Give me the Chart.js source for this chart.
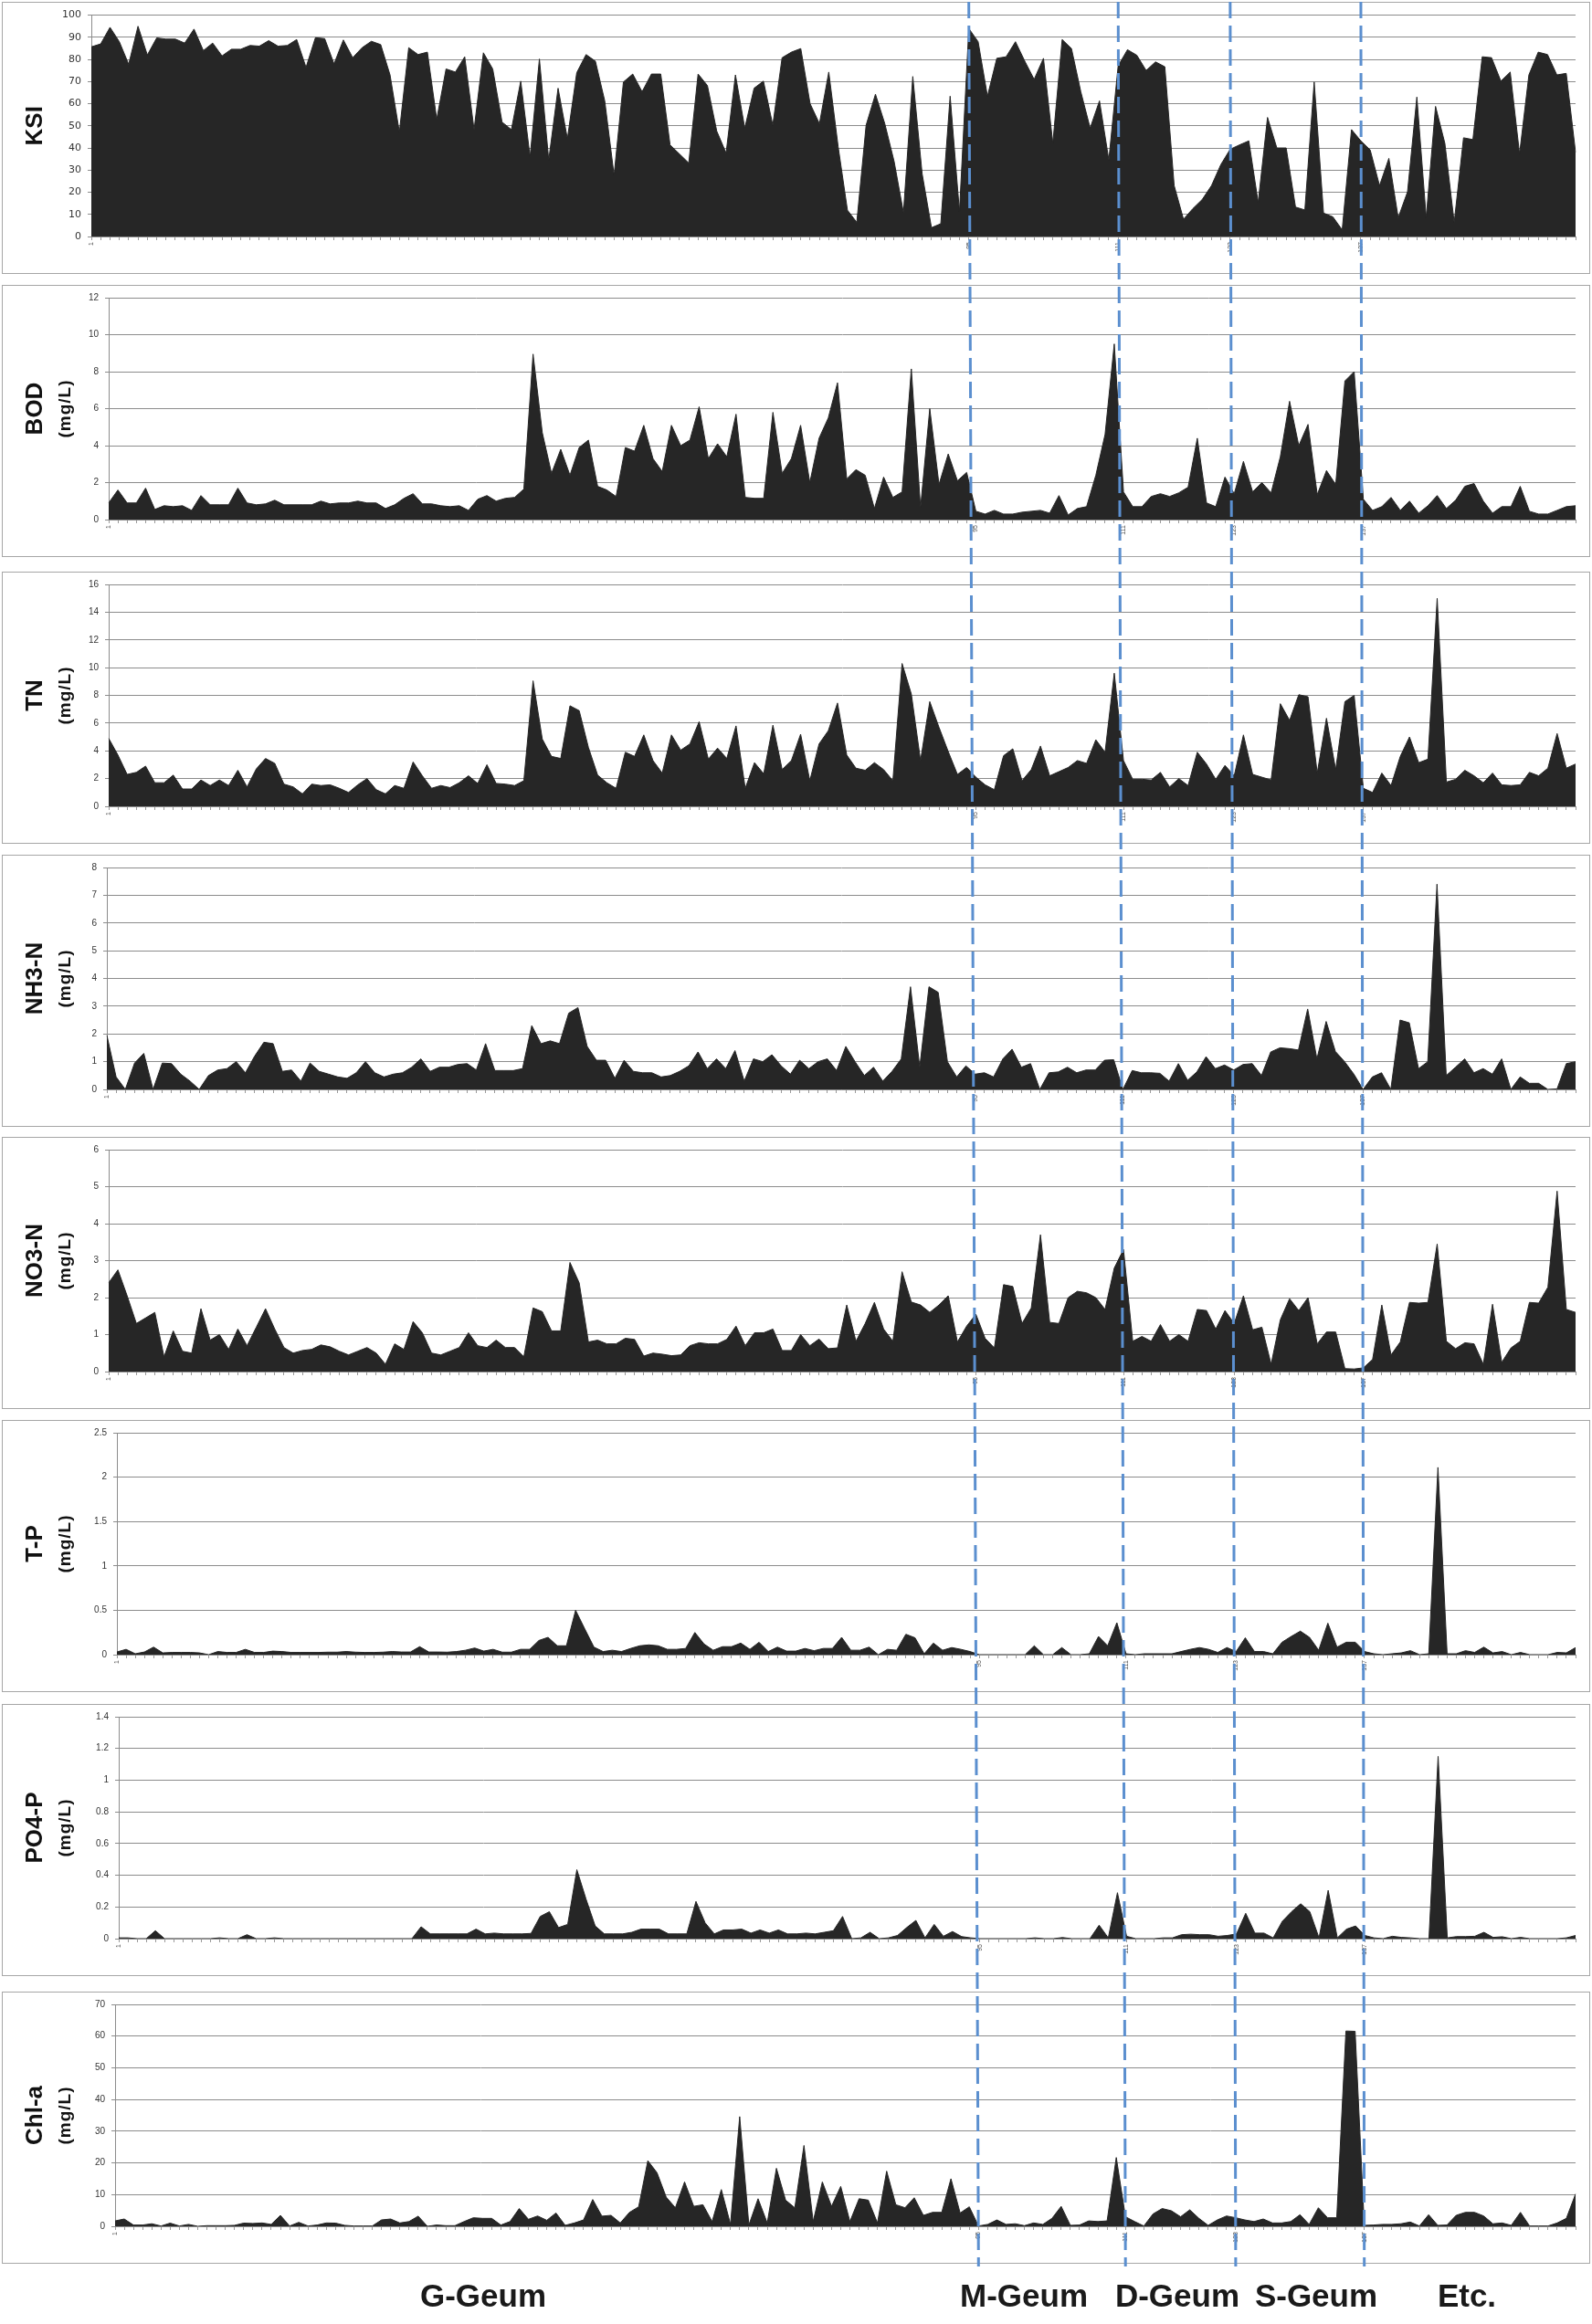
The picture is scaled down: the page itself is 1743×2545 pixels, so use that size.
<!DOCTYPE html>
<html>
<head>
<meta charset="utf-8">
<script src="https://cdn.jsdelivr.net/npm/chart.js@4.4.1/dist/chart.umd.min.js"></script>
<style>
  html, body { margin: 0; padding: 0; background: #fff; }
  body { width: 1743px; height: 2545px; position: relative; overflow: hidden; }
  .panel { position: absolute; left: 2px; width: 1739px; height: 298px; border: 1px solid #a6a6a6; box-sizing: border-box; }
  .panel canvas { display: block; }
  #guides { position: absolute; left: 0; top: 0; pointer-events: none; }
  .region { position: absolute; top: 2496px; font: bold 35px "Liberation Sans", Arial, sans-serif; line-height: 35px; color: #1a1a1a; transform: translateX(-50%); white-space: nowrap; }
</style>
</head>
<body>
<div id="panels"></div>
<canvas id="guides" width="1743" height="2545"></canvas>
<div class="region" style="left:529px">G-Geum</div>
<div class="region" style="left:1121px">M-Geum</div>
<div class="region" style="left:1289px">D-Geum</div>
<div class="region" style="left:1441px">S-Geum</div>
<div class="region" style="left:1606px">Etc.</div>
<script>
// === dados (160 amostras) ===
const ksi = [
  85.7, 87, 94.5, 88, 77.8, 95, 82, 89.7, 89.2, 89.2,
  87.4, 93.7, 84, 87.4, 81.6, 84.6, 84.6, 86.3, 86, 88.5,
  86, 86.3, 89, 76.4, 89.8, 89.4, 78, 88.8, 80.8, 85.3,
  88.2, 86.7, 73, 47.2, 85.3, 82.2, 83.3, 53, 75.7, 74.3,
  81.2, 48.3, 83, 75.7, 51.7, 48.3, 70.2, 36, 80.2, 34.6,
  67, 44.2, 74, 82.2, 79.2, 61.3, 27.7, 69.8, 73.4, 65.4,
  73.4, 73.4, 41.4, 37.3, 33.2, 73.4, 68.2, 47.6, 37.7, 73,
  49, 67, 70.2, 50.3, 80.8, 83.3, 84.9, 60, 51, 74.3,
  40.7, 11.9, 6.4, 50.3, 64.3, 51, 33.9, 10.8, 72.3, 28.4,
  4, 5.8, 63.4, 11.2, 94, 88, 63.4, 80.5, 81.2, 88,
  79.2, 71, 80.5, 42.1, 89, 84.9, 65.4, 49, 61.3, 34.6,
  77.1, 84.4, 81.9, 75, 78.9, 76.7, 23, 7.8, 12.6, 16.7,
  23, 32.5, 39.4, 41.4, 43.2, 15.4, 53.8, 40, 40, 13.3,
  12, 69.8, 10.6, 8.9, 3, 48.3, 43.2, 39.1, 23, 35.3,
  8.5, 20.2, 63, 8.5, 58.8, 42.1, 6.4, 44.6, 43.8, 81.2,
  80.8, 70.2, 74.3, 37.3, 73, 83.3, 82.2, 73, 73.7, 38
];
const bod = [
  0.9, 1.6, 0.9, 0.9, 1.7, 0.55, 0.75, 0.7, 0.75, 0.5,
  1.3, 0.8, 0.8, 0.8, 1.7, 0.9, 0.8, 0.85, 1.05, 0.8,
  0.8, 0.8, 0.8, 1.0, 0.85, 0.9, 0.9, 1.0, 0.9, 0.9,
  0.6, 0.8, 1.15, 1.4, 0.85, 0.85, 0.75, 0.7, 0.75, 0.5,
  1.1, 1.3, 1.0, 1.15, 1.2, 1.65, 8.95, 4.7, 2.5, 3.8,
  2.4, 3.9, 4.3, 1.8, 1.6, 1.25, 3.9, 3.7, 5.1, 3.3,
  2.6, 5.1, 4.0, 4.3, 6.1, 3.3, 4.1, 3.4, 5.7, 1.2,
  1.15, 1.15, 5.8, 2.5, 3.3, 5.1, 2.0, 4.4, 5.5, 7.4,
  2.2, 2.7, 2.4, 0.6, 2.3, 1.2, 1.5, 8.15, 0.65, 6.0,
  1.9, 3.55, 2.1, 2.55, 0.45, 0.3, 0.5, 0.3, 0.3, 0.4,
  0.45, 0.5, 0.35, 1.3, 0.25, 0.6, 0.7, 2.4, 4.6, 9.5,
  1.5, 0.7, 0.7, 1.25, 1.4, 1.25, 1.45, 1.75, 4.4, 0.9,
  0.7, 2.3, 1.4, 3.15, 1.5, 2.0, 1.45, 3.4, 6.4, 4.0,
  5.15, 1.35, 2.65, 1.9, 7.5, 8.0, 1.1, 0.5, 0.7, 1.2,
  0.5, 1.0, 0.35, 0.75, 1.3, 0.6, 1.05, 1.8, 1.95, 1.0,
  0.35, 0.7, 0.7, 1.8, 0.45, 0.3, 0.3, 0.5, 0.7, 0.75
];
const tn = [
  4.9, 3.7, 2.3, 2.45, 2.9, 1.7, 1.7, 2.25, 1.25, 1.25,
  1.9, 1.5, 1.9, 1.5, 2.6, 1.4, 2.7, 3.45, 3.1, 1.6,
  1.4, 0.9, 1.6, 1.5, 1.55, 1.3, 1.0, 1.55, 2.0, 1.2,
  0.9, 1.5, 1.3, 3.2, 2.2, 1.3, 1.5, 1.35, 1.7, 2.2,
  1.65, 3.0, 1.65, 1.6, 1.5, 1.85, 9.05, 4.85, 3.6, 3.45,
  7.25, 6.9, 4.25, 2.25, 1.7, 1.3, 3.9, 3.6, 5.15, 3.3,
  2.4, 5.15, 4.05, 4.5, 6.1, 3.4, 4.2, 3.45, 5.8, 1.3,
  3.15, 2.35, 5.85, 2.65, 3.3, 5.2, 1.85, 4.5, 5.45, 7.45,
  3.7, 2.75, 2.6, 3.15, 2.65, 1.85, 10.3, 8.1, 3.3, 7.55,
  5.7, 3.95, 2.3, 2.8, 2.1, 1.55, 1.2, 3.65, 4.15, 1.85,
  2.65, 4.35, 2.2, 2.5, 2.8, 3.3, 3.1, 4.8, 3.9, 9.6,
  3.3, 1.95, 1.95, 1.9, 2.45, 1.4, 2.0, 1.5, 3.9, 3.05,
  1.95, 2.95, 2.2, 5.15, 2.3, 2.1, 1.9, 7.4, 6.2, 8.05,
  7.9, 2.4, 6.35, 2.65, 7.55, 8.0, 1.3, 1.0, 2.4, 1.5,
  3.6, 5.0, 3.15, 3.4, 15.0, 1.75, 1.95, 2.6, 2.2, 1.7,
  2.4, 1.55, 1.5, 1.55, 2.45, 2.2, 2.75, 5.25, 2.75, 3.05
];
const nh3n = [
  1.95, 0.45, 0, 0.95, 1.3, 0, 0.95, 0.93, 0.55, 0.3,
  0, 0.5, 0.7, 0.75, 1.0, 0.6, 1.2, 1.7, 1.65, 0.65,
  0.7, 0.3, 0.95, 0.65, 0.55, 0.45, 0.4, 0.6, 1.0, 0.6,
  0.45, 0.55, 0.6, 0.8, 1.1, 0.65, 0.8, 0.8, 0.9, 0.93,
  0.7, 1.65, 0.68, 0.68, 0.68, 0.75, 2.3, 1.65, 1.75, 1.65,
  2.75, 2.95, 1.55, 1.05, 1.05, 0.4, 1.05, 0.65, 0.6, 0.6,
  0.45, 0.5, 0.65, 0.85, 1.35, 0.75, 1.1, 0.75, 1.4, 0.3,
  1.1, 1.0, 1.25, 0.85, 0.55, 1.05, 0.75, 1.0, 1.1, 0.68,
  1.55, 1.0, 0.5, 0.8, 0.3, 0.65, 1.1, 3.7, 0.8, 3.7,
  3.5, 1.0, 0.45, 0.85, 0.55, 0.6, 0.45, 1.1, 1.45, 0.8,
  0.93, 0, 0.6, 0.63, 0.8, 0.6, 0.7, 0.7, 1.05, 1.07,
  0, 0.68, 0.6, 0.6, 0.58, 0.3, 0.93, 0.33, 0.63, 1.18,
  0.75, 0.88, 0.7, 0.9, 0.93, 0.5, 1.35, 1.5, 1.47, 1.42,
  2.9, 1.1, 2.45, 1.37, 1.0, 0.55, 0, 0.45, 0.6, 0,
  2.5, 2.4, 0.75, 1.0, 7.4, 0.5, 0.8, 1.1, 0.6, 0.75,
  0.55, 1.1, 0, 0.45, 0.22, 0.22, 0, 0.02, 0.93, 1.0
];
const no3n = [
  2.4, 2.75, 2.05, 1.3, 1.45, 1.6, 0.4, 1.1, 0.55, 0.5,
  1.7, 0.85, 1.0, 0.6, 1.15, 0.7, 1.2, 1.7, 1.15, 0.65,
  0.5, 0.57, 0.6, 0.72, 0.67, 0.55, 0.45, 0.55, 0.65, 0.5,
  0.2, 0.75, 0.6, 1.35, 1.05, 0.5, 0.45, 0.55, 0.65, 1.05,
  0.7, 0.65, 0.85, 0.65, 0.65, 0.4, 1.72, 1.62, 1.1, 1.1,
  2.95, 2.4, 0.8, 0.85, 0.75, 0.75, 0.9, 0.87, 0.42, 0.5,
  0.47, 0.43, 0.45, 0.7, 0.78, 0.75, 0.75, 0.87, 1.23, 0.7,
  1.05, 1.05, 1.15, 0.57, 0.57, 1.0, 0.7, 0.88, 0.62, 0.64,
  1.8, 0.82, 1.3, 1.87, 1.15, 0.82, 2.7, 1.88, 1.8, 1.6,
  1.8, 2.05, 0.8, 1.23, 1.55, 0.9, 0.64, 2.35, 2.3, 1.3,
  1.72, 3.7, 1.33, 1.3, 2.0, 2.17, 2.13, 2.0, 1.68, 2.8,
  3.3, 0.82, 0.95, 0.82, 1.27, 0.82, 1.0, 0.82, 1.68, 1.65,
  1.15, 1.65, 1.3, 2.05, 1.13, 1.2, 0.2, 1.4, 1.97, 1.65,
  2.0, 0.75, 1.07, 1.07, 0.08, 0.07, 0.1, 0.33, 1.8, 0.45,
  0.8, 1.87, 1.85, 1.87, 3.45, 0.82, 0.62, 0.78, 0.75, 0.2,
  1.82, 0.25, 0.64, 0.82, 1.87, 1.85, 2.28, 4.88, 1.68, 1.6
];
const tp = [
  0.03, 0.06, 0.01, 0.03, 0.085, 0.02, 0.025, 0.025, 0.025, 0.02,
  0, 0.035, 0.025, 0.025, 0.06, 0.025, 0.025, 0.04, 0.035, 0.025,
  0.025, 0.025, 0.025, 0.028, 0.028, 0.035, 0.028, 0.025, 0.025, 0.028,
  0.035, 0.03, 0.03, 0.09, 0.03, 0.03, 0.028, 0.035, 0.05, 0.075,
  0.04, 0.06, 0.028, 0.028, 0.06, 0.06, 0.16, 0.195, 0.1, 0.1,
  0.5, 0.29, 0.085, 0.035, 0.05, 0.035, 0.07, 0.1, 0.11, 0.1,
  0.06, 0.06, 0.07, 0.25, 0.12, 0.05, 0.09, 0.09, 0.13, 0.06,
  0.14, 0.035, 0.085, 0.04, 0.04, 0.07, 0.045, 0.07, 0.07, 0.195,
  0.05, 0.05, 0.085, 0, 0.06, 0.05, 0.23, 0.19, 0.01, 0.13,
  0.05, 0.08, 0.06, 0.035, 0, 0, 0, 0, 0, 0,
  0.1, 0, 0, 0.08, 0, 0, 0.01, 0.205, 0.1, 0.36,
  0.01, 0, 0.01, 0.01, 0.01, 0.01, 0.035, 0.06, 0.08, 0.06,
  0.025, 0.08, 0.035, 0.19, 0.035, 0.035, 0.01, 0.14, 0.205, 0.265,
  0.195, 0.05, 0.355, 0.085, 0.14, 0.14, 0.035, 0.01, 0, 0.01,
  0.02, 0.045, 0, 0.01, 2.11, 0.01, 0.01, 0.045, 0.025, 0.085,
  0.02, 0.035, 0, 0.025, 0, 0, 0, 0.025, 0.02, 0.08
];
const po4p = [
  0.005, 0.005, 0, 0, 0.05, 0, 0, 0, 0, 0,
  0, 0.005, 0, 0, 0.025, 0, 0, 0.005, 0, 0,
  0, 0, 0, 0, 0, 0, 0, 0, 0, 0,
  0, 0, 0, 0.075, 0.03, 0.03, 0.03, 0.03, 0.03, 0.06,
  0.03, 0.035, 0.03, 0.03, 0.03, 0.033, 0.14, 0.17, 0.07, 0.09,
  0.435, 0.25, 0.08, 0.03, 0.03, 0.03, 0.04, 0.06, 0.06, 0.06,
  0.03, 0.03, 0.03, 0.235, 0.1, 0.03, 0.055, 0.055, 0.06, 0.035,
  0.055, 0.035, 0.055, 0.03, 0.03, 0.035, 0.03, 0.04, 0.05, 0.14,
  0, 0.005, 0.04, 0, 0.005, 0.02, 0.07, 0.115, 0.005, 0.09,
  0.015, 0.045, 0.013, 0.005, 0, 0, 0, 0, 0, 0,
  0.005, 0, 0, 0.007, 0, 0, 0, 0.085, 0.005, 0.29,
  0.015, 0, 0, 0, 0.005, 0.005, 0.025, 0.028, 0.025, 0.025,
  0.015, 0.02, 0.03, 0.16, 0.035, 0.035, 0.005, 0.11, 0.17, 0.22,
  0.17, 0.005, 0.305, 0.005, 0.06, 0.08, 0.02, 0.005, 0, 0.015,
  0.008, 0.005, 0, 0, 1.15, 0.005, 0.013, 0.013, 0.015, 0.04,
  0.008, 0.012, 0, 0.008, 0, 0, 0, 0, 0.005, 0.02
];
const chla = [
  1.7, 2.3, 0.4, 0.4, 0.8, 0.1, 1.0, 0.1, 0.6, 0,
  0.2, 0.2, 0.2, 0.3, 1.0, 0.9, 1.05, 0.6, 3.45, 0.1,
  1.25, 0.1, 0.4, 1.05, 1.0, 0.3, 0.1, 0.1, 0.1, 2.0,
  2.3, 1.05, 1.5, 3.2, 0, 0.4, 0.2, 0.2, 1.5, 2.7,
  2.5, 2.5, 0.4, 1.5, 5.6, 2.2, 3.25, 1.9, 4.2, 0.3,
  1.05, 2.0, 8.45, 3.2, 3.45, 1.05, 4.4, 6.15, 20.7, 16.9,
  9.2, 5.85, 14.0, 6.3, 6.8, 1.5, 11.6, 0.6, 34.6, 0.4,
  8.7, 1.05, 18.3, 8.25, 5.85, 25.5, 1.5, 14.0, 6.3, 12.6,
  1.5, 8.7, 8.25, 1.05, 17.4, 6.8, 5.85, 9.0, 3.45, 4.4,
  4.4, 15.0, 4.2, 6.15, 0.1, 0.6, 2.0, 0.6, 0.8, 0.2,
  1.05, 0.6, 2.5, 6.3, 0.3, 0.4, 1.7, 1.5, 1.7, 21.7,
  3.0, 1.5, 0.1, 3.9, 5.6, 4.9, 3.0, 5.2, 2.5, 0.3,
  2.0, 3.25, 2.7, 2.0, 1.5, 2.3, 1.05, 1.05, 1.5, 3.65,
  0.6, 5.85, 2.7, 2.7, 61.6, 61.5, 0.3, 0.4, 0.6, 0.6,
  0.8, 1.35, 0.1, 3.65, 0.3, 0.4, 3.45, 4.4, 4.4, 3.25,
  0.8, 1.05, 0.3, 4.4, 0.1, 0.1, 0.1, 1.05, 2.5, 10.2
];

// categorias e limites das regiões
const samples = ksi.map((_, i) => String(i + 1));
const labelledTicks = [0, 94, 110, 122, 136];
const regionBounds = [94, 110, 122, 136];

// === configuração dos painéis ===
const panels = [
  { data: ksi,  title: 'KSI',   unit: '',       max: 100, step: 10,  top: 2,    plotLeft: 100 },
  { data: bod,  title: 'BOD',   unit: '(mg/L)', max: 12,  step: 2,   top: 312,  plotLeft: 119 },
  { data: tn,   title: 'TN',    unit: '(mg/L)', max: 16,  step: 2,   top: 626,  plotLeft: 119 },
  { data: nh3n, title: 'NH3-N', unit: '(mg/L)', max: 8,   step: 1,   top: 936,  plotLeft: 117 },
  { data: no3n, title: 'NO3-N', unit: '(mg/L)', max: 6,   step: 1,   top: 1245, plotLeft: 119 },
  { data: tp,   title: 'T-P',   unit: '(mg/L)', max: 2.5, step: 0.5, top: 1555, plotLeft: 128 },
  { data: po4p, title: 'PO4-P', unit: '(mg/L)', max: 1.4, step: 0.2, top: 1866, plotLeft: 130 },
  { data: chla, title: 'Chl-a', unit: '(mg/L)', max: 70,  step: 10,  top: 2181, plotLeft: 126 }
];

// título do eixo Y desenhado à mão (duas linhas com tamanhos diferentes)
const axisTitle = {
  id: 'axisTitle',
  afterDraw(chart, args, opts) {
    const ctx = chart.ctx;
    const cy = (chart.chartArea.top + chart.chartArea.bottom) / 2;
    ctx.save();
    ctx.fillStyle = '#111';
    ctx.textAlign = 'center';
    ctx.textBaseline = 'middle';
    ctx.translate(36, cy);
    ctx.rotate(-Math.PI / 2);
    ctx.font = 'bold 26px "Liberation Sans", Arial, sans-serif';
    ctx.fillText(opts.title, 0, 0);
    if (opts.unit) {
      ctx.font = 'bold 19px "Liberation Sans", Arial, sans-serif';
      ctx.letterSpacing = '1px';
      ctx.fillText(opts.unit, 0, 33);
    }
    ctx.restore();
  }
};

const charts = [];
const wrap = document.getElementById('panels');

panels.forEach((p, n) => {
  const box = document.createElement('div');
  box.className = 'panel';
  box.style.top = p.top + 'px';
  const cv = document.createElement('canvas');
  cv.width = 1737;
  cv.height = 296;
  box.appendChild(cv);
  wrap.appendChild(box);

  const tickFont = n === 0
    ? { family: '"DejaVu Sans", sans-serif', size: 11 }
    : { family: '"Liberation Sans", Arial, sans-serif', size: 10 };

  charts.push(new Chart(cv, {
    type: 'line',
    data: {
      labels: samples,
      datasets: [{
        data: p.data,
        fill: 'origin',
        backgroundColor: '#262626',
        borderColor: '#262626',
        borderWidth: 1,
        pointRadius: 0,
        tension: 0
      }]
    },
    options: {
      responsive: false,
      animation: false,
      events: [],
      layout: { padding: { top: 12, right: 15, left: 0, bottom: 0 } },
      plugins: {
        legend: { display: false },
        tooltip: { enabled: false },
        axisTitle: { title: p.title, unit: p.unit }
      },
      scales: {
        x: {
          offset: false,
          afterFit(s) { s.height = 40; },
          grid: { display: true, drawOnChartArea: false, drawTicks: true, tickLength: 4, color: '#9a9a9a' },
          border: { display: true, color: '#8c8c8c' },
          ticks: {
            autoSkip: false,
            minRotation: 90,
            maxRotation: 90,
            padding: 2,
            font: { family: '"Liberation Sans", Arial, sans-serif', size: 7 },
            color: '#444',
            callback(v, i) { return labelledTicks.includes(i) ? samples[i] : ''; }
          }
        },
        y: {
          min: 0,
          max: p.max,
          afterFit(s) { s.width = p.plotLeft - 3; },
          grid: { color: '#8c8c8c', lineWidth: 1, drawTicks: true, tickLength: 4 },
          border: { display: true, color: '#8c8c8c' },
          ticks: {
            stepSize: p.step,
            padding: 7,
            font: tickFont,
            color: '#333',
            callback(v) { return String(+v.toFixed(3)); }
          }
        }
      }
    },
    plugins: [axisTitle]
  }));
});

// linhas tracejadas azuis que separam as regiões (atravessam todos os painéis)
const g = document.getElementById('guides').getContext('2d');
g.strokeStyle = '#5b8fcf';
g.lineWidth = 3;
g.setLineDash([18, 8]);
const first = charts[0], last = charts[charts.length - 1];
regionBounds.forEach(b => {
  const xTop = first.scales.x.getPixelForValue(b) + 3;
  const xBot = last.scales.x.getPixelForValue(b) + 3;
  g.beginPath();
  g.moveTo(xTop, 2);
  g.lineTo(xBot, 2482);
  g.stroke();
});
</script>
</body>
</html>
